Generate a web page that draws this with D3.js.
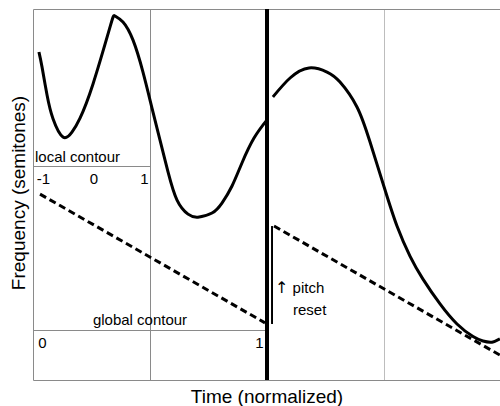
<!DOCTYPE html>
<html>
<head>
<meta charset="utf-8">
<script src="https://cdn.jsdelivr.net/npm/d3@7"></script>
<style>
body { margin: 0; background: #fff; }
text { font-family: "Liberation Sans", Arial, sans-serif; fill: #000; }
</style>
</head>
<body>
<script>
// first phrase contour (time normalized 0..4, frequency in arbitrary semitone units)
var phrase1Time = [0.051, 0.077, 0.120, 0.171, 0.256, 0.333, 0.402, 0.513, 0.658, 0.701, 0.769, 0.855, 0.940, 1.017, 1.085, 1.154, 1.231, 1.325, 1.410, 1.530, 1.615, 1.701, 1.786, 1.889, 2.0];
var phrase1Freq = [88.4, 84.4, 76.8, 70.4, 65.5, 66.8, 70.6, 79.8, 95.1, 98.1, 96.5, 91.6, 83.0, 73.3, 64.7, 56.1, 48.5, 44.7, 43.9, 45.0, 47.7, 52.3, 58.5, 65.2, 70.1];
// second phrase contour
var phrase2Time = [2.051, 2.197, 2.359, 2.513, 2.624, 2.769, 2.880, 3.009, 3.111, 3.222, 3.333, 3.479, 3.624, 3.761, 3.846, 3.923, 3.991];
var phrase2Freq = [76.3, 81.4, 84.1, 83.0, 80.3, 73.6, 64.2, 51.2, 41.5, 33.4, 27.2, 20.5, 15.1, 11.7, 10.5, 10.2, 11.1];
// global contour (dashed)
var global1Time = [0.060, 1.983];
var global1Freq = [50.1, 15.4];
var global2Time = [2.060, 3.991];
var global2Freq = [41.5, 6.7];
// pitch reset marker
var resetTime = 2.043;
var resetFreq = [41.5, 15.1];
var boundaryTime = 2;
var gridTimes = [1, 3];
var localLevel = 57.7, globalLevel = 13.5;
var localTicks = [-1, 0, 1];
var globalTicks = [0, 1];

var width = 500, height = 406;
var mLeft = 33, mTop = 9, mRight = 501, mBottom = 380;

var svg = d3.select("body").append("svg").attr("width", width).attr("height", height);

var x = d3.scaleLinear().domain([0, 4]).range([mLeft, mRight]);
var y = d3.scaleLinear().domain([0, 100]).range([mBottom, mTop]);
var xLocal = d3.scaleLinear().domain([-1, 1]).range([x(0.085), x(0.949)]);
var xGlobal = d3.scaleLinear().domain([0, 1]).range([x(0.077), x(1.932)]);

// grid lines
svg.selectAll("line.grid").data(gridTimes).enter().append("line")
    .attr("class", "grid")
    .attr("x1", function(d){ return Math.round(x(d)) + 0.5; }).attr("x2", function(d){ return Math.round(x(d)) + 0.5; })
    .attr("y1", mTop).attr("y2", mBottom)
    .attr("stroke", function(d){ return d == 1 ? "#8a8a8a" : "#bdbdbd"; })
    .attr("stroke-width", 1);

// frame (top, left, bottom)
svg.append("path")
    .attr("d", "M" + mRight + "," + (mTop + 0.5) + "H" + (mLeft + 0.5) + "V" + (mBottom + 0.5) + "H" + mRight)
    .attr("fill", "none").attr("stroke", "#8a8a8a").attr("stroke-width", 1);

// contour base lines
svg.append("line")
    .attr("x1", x(0)).attr("x2", x(1))
    .attr("y1", Math.round(y(localLevel)) + 0.5).attr("y2", Math.round(y(localLevel)) + 0.5)
    .attr("stroke", "#8a8a8a");
svg.append("line")
    .attr("x1", x(0)).attr("x2", x(2))
    .attr("y1", Math.round(y(globalLevel)) + 0.5).attr("y2", Math.round(y(globalLevel)) + 0.5)
    .attr("stroke", "#8a8a8a");

// tick labels for local / global scales
var localAxis = d3.axisBottom(xLocal).tickValues(localTicks).tickSize(0).tickPadding(0).tickFormat(d3.format("d"));
var gl = svg.append("g").attr("transform", "translate(0," + (y(localLevel) + 7) + ")").call(localAxis);
var globalAxis = d3.axisBottom(xGlobal).tickValues(globalTicks).tickSize(0).tickPadding(0).tickFormat(d3.format("d"));
var gg = svg.append("g").attr("transform", "translate(0," + (y(globalLevel) + 7) + ")").call(globalAxis);
[gl, gg].forEach(function(g){
  g.select(".domain").remove();
  g.selectAll("text").attr("font-size", "15px").attr("fill", "#000")
    .attr("font-family", "Liberation Sans, Arial, sans-serif").attr("dy", "0.71em");
});
gl.selectAll("text").text(function(d){ return d < 0 ? "-1" : d; });

// dashed global contours
var line = d3.line().x(function(d){ return x(d[0]); }).y(function(d){ return y(d[1]); });
[[global1Time, global1Freq], [global2Time, global2Freq]].forEach(function(s){
  svg.append("path")
    .attr("d", line(d3.zip(s[0], s[1])))
    .attr("fill", "none").attr("stroke", "#000").attr("stroke-width", 3)
    .attr("stroke-dasharray", "7,4");
});

// pitch contours
var curve = d3.line().x(function(d){ return x(d[0]); }).y(function(d){ return y(d[1]); })
    .curve(d3.curveNatural);
[[phrase1Time, phrase1Freq], [phrase2Time, phrase2Freq]].forEach(function(s){
  svg.append("path")
    .attr("d", curve(d3.zip(s[0], s[1])))
    .attr("fill", "none").attr("stroke", "#000").attr("stroke-width", 3)
    .attr("stroke-linejoin", "round");
});

// phrase boundary
svg.append("line")
    .attr("x1", x(boundaryTime)).attr("x2", x(boundaryTime))
    .attr("y1", mTop).attr("y2", mBottom)
    .attr("stroke", "#000").attr("stroke-width", 4);

// pitch reset marker
svg.append("line")
    .attr("x1", x(resetTime)).attr("x2", x(resetTime))
    .attr("y1", y(resetFreq[0])).attr("y2", y(resetFreq[1]))
    .attr("stroke", "#000").attr("stroke-width", 2);

var pr = svg.append("text").attr("x", 275).attr("y", 293).attr("font-size", "15px");
pr.append("tspan").attr("font-family", "DejaVu Sans").attr("font-size", "16px").text("\u2191");
pr.append("tspan").text(" pitch");
svg.append("text").attr("x", 293).attr("y", 315).attr("font-size", "15px").text("reset");

svg.append("text").attr("x", 35).attr("y", 162).attr("font-size", "15px").text("local contour");
svg.append("text").attr("x", 140).attr("y", 325).attr("font-size", "15px").attr("text-anchor", "middle").text("global contour");

// axis titles
svg.append("text").attr("x", 267).attr("y", 403).attr("font-size", "19px")
    .attr("text-anchor", "middle").text("Time (normalized)");
svg.append("text").attr("transform", "translate(25,193) rotate(-90)").attr("font-size", "19px")
    .attr("text-anchor", "middle").text("Frequency (semitones)");
</script>
</body>
</html>
